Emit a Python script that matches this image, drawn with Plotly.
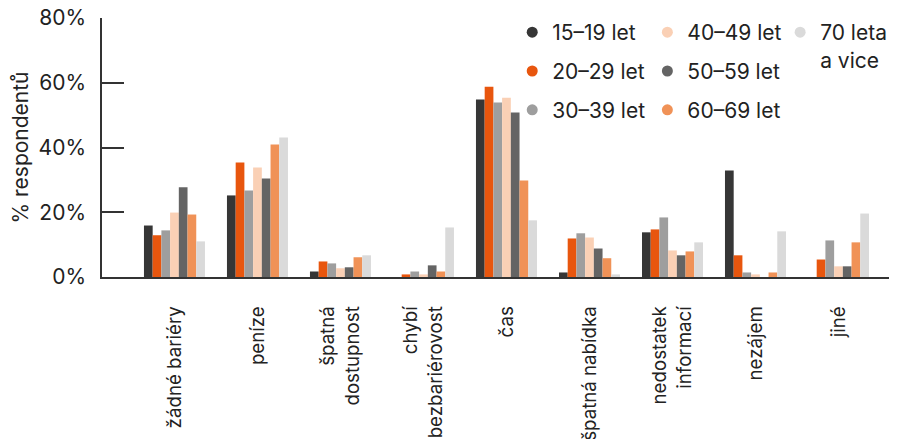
import plotly.graph_objects as go

categories = ["žádné bariéry", "peníze", "špatná<br>dostupnost", "chybí<br>bezbariérovost",
              "čas", "špatná nabídka", "nedostatek<br>informací", "nezájem", "jiné"]

series_names = ["15–19 let", "20–29 let", "30–39 let", "40–49 let",
                "50–59 let", "60–69 let", "70 leta<br>a vice"]

age_15_19 = [15.9, 25.2, 1.7, 0.0, 54.8, 1.4, 13.8, 32.9, 0.0]
age_20_29 = [12.9, 35.4, 4.8, 0.8, 58.8, 11.9, 14.7, 6.7, 5.4]
age_30_39 = [14.4, 26.7, 4.2, 1.7, 53.9, 13.5, 18.4, 1.4, 11.3]
age_40_49 = [19.9, 33.8, 2.7, 0.8, 55.4, 12.2, 8.2, 0.8, 3.3]
age_50_59 = [27.7, 30.4, 3.0, 3.6, 50.8, 8.8, 6.7, 0.0, 3.3]
age_60_69 = [19.3, 40.9, 6.1, 1.7, 29.8, 5.8, 7.9, 1.4, 10.7]
age_70_plus = [11.0, 43.1, 6.7, 15.3, 17.5, 0.8, 10.7, 14.1, 19.6]

series_values = [age_15_19, age_20_29, age_30_39, age_40_49, age_50_59, age_60_69, age_70_plus]
colors = ["#363636", "#E8560E", "#9E9E9E", "#FAD0B5", "#646464", "#F09257", "#DADADA"]
legend_ids = ["legend", "legend", "legend", "legend2", "legend2", "legend2", "legend3"]

y_ticks = [0, 20, 40, 60, 80]
y_tick_labels = ["0%", "20%", "40%", "60%", "80%"]

FONT = "Inter, 'Noto Sans', sans-serif"
TEXT = "#222222"
AXIS = "#333333"

fig = go.Figure()
for name, vals, col in zip(series_names, series_values, colors):
    fig.add_trace(go.Bar(
        x=list(range(len(categories))), y=vals, name=name,
        marker=dict(color=col, line=dict(width=0)),
        showlegend=False, hoverinfo="y+name",
    ))

# legend entries shown as round dots
for i, (name, col, lg) in enumerate(zip(series_names, colors, legend_ids)):
    fig.add_trace(go.Scatter(
        x=[None], y=[None], mode="markers", name=name,
        marker=dict(color=col, size=11, symbol="circle"),
        legend=lg, legendgroup=f"g{i}", showlegend=True,
    ))

leg_common = dict(
    orientation="v", yanchor="top", xanchor="left",
    font=dict(family=FONT, size=21, color=TEXT),
    bgcolor="rgba(0,0,0,0)", borderwidth=0, tracegroupgap=8.5,
    itemclick=False, itemdoubleclick=False, valign="top",
)

fig.update_layout(
    width=889, height=431,
    margin=dict(l=94, r=0, t=9.5, b=162, autoexpand=False),
    paper_bgcolor="white", plot_bgcolor="white",
    barmode="group", bargap=0.265, bargroupgap=0,
    font=dict(family=FONT, size=18, color=TEXT),
    legend=dict(x=0.516, y=1.023, **leg_common),
    legend2=dict(x=0.686, y=1.023, **leg_common),
    legend3=dict(x=0.853, y=1.023, **leg_common),
    xaxis=dict(
        range=[-0.873, 8.705], automargin=False,
        tickmode="array", tickvals=list(range(len(categories))), ticktext=categories,
        tickangle=-90, ticks="", showgrid=False, zeroline=False,
        showline=True, linecolor=AXIS, linewidth=1.5,
        tickfont=dict(family=FONT, size=18.7, color=TEXT),
        ticklabelstandoff=20, ticklabeloverflow="allow",
    ),
    yaxis=dict(
        range=[0, 80], automargin=False,
        tickmode="array", tickvals=y_ticks, ticktext=y_tick_labels,
        ticks="inside", ticklen=22, tickwidth=1.5, tickcolor=AXIS,
        showline=True, linecolor=AXIS, linewidth=1.5,
        showgrid=False, zeroline=False,
        tickfont=dict(family=FONT, size=21, color=TEXT),
        ticklabelstandoff=10, ticklabeloverflow="allow",
        title=dict(text="% respondentů", font=dict(family=FONT, size=21, color=TEXT), standoff=9),
    ),
)

fig.write_html("out.html")
